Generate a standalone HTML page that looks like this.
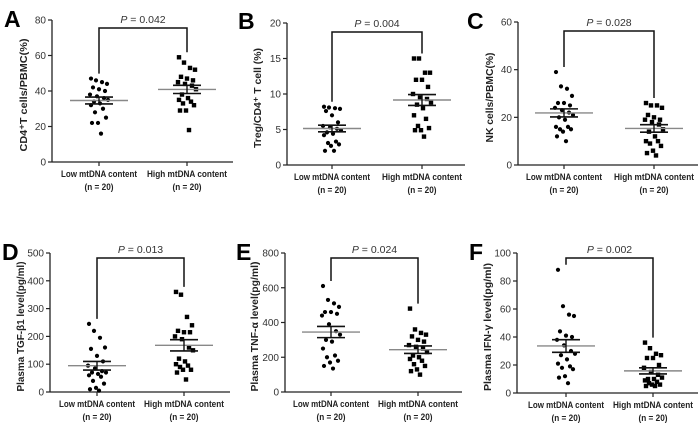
<!DOCTYPE html>
<html><head><meta charset="utf-8"><style>
body{margin:0;background:#fff;}
svg{display:block;font-family:"Liberation Sans",Arial,sans-serif;}
</style></head><body>
<svg id="fig" width="700" height="427" viewBox="0 0 700 427"></svg>
<script>
const groupLabels = ["Low mtDNA content", "High mtDNA content"];
const nLabel = "(n = 20)";
const aLow = [47,46,45,44,42,41,40,38,37,36,35,34,33,32,30,28,25,22,22,16];
const aHigh = [59,56,53,52,48,47,46,45,44,43,41,38,36,35,34,33,32,29,29,18];
const bLow = [8.2,8.1,8.0,7.9,7.6,7.0,6.0,5.5,5.3,5.1,4.9,4.6,4.4,4.2,3.3,3.1,2.9,2.7,2.0,2.0];
const bHigh = [15,15,13,13,12,12,11,10,9.5,9.3,8.8,8.5,8,7,6.5,5.5,5.2,4.9,4.9,4];
const cLow = [39,33,32,29,26,26,25,24,23,22,21,20,19,16,16,15,15,14,12,10];
const cHigh = [26,25,25,24,21,20,19,19,18,17,15,14,12,10,10,9,8,6,5,4];
const dLow = [245,220,195,160,155,130,110,95,85,75,70,70,65,60,55,40,30,15,10,5];
const dHigh = [360,350,270,240,220,215,215,200,190,160,150,120,110,100,95,90,80,80,70,45];
const eLow = [610,530,510,490,460,460,450,440,390,350,330,300,290,250,210,200,180,170,150,135];
const eHigh = [480,360,340,330,320,300,290,270,260,250,230,210,200,190,180,160,150,130,120,100];
const fLow = [88,62,56,55,44,41,40,38,34,30,28,27,24,21,19,18,17,12,11,7];
const fHigh = [36,32,28,27,25,25,20,18,15,13,11,10,10,9,8,7,6,6,5,5];
const aTicks = [0,20,40,60,80];
const bTicks = [0,5,10,15,20];
const cTicks = [0,20,40,60];
const dTicks = [0,100,200,300,400,500];
const eTicks = [0,200,400,600,800];
const fTicks = [0,20,40,60,80,100];
const pValues = ["0.042","0.004","0.028","0.013","0.024","0.002"];
const yTitles = ["CD4\u207AT cells/PBMC(%)","Treg/CD4\u207A T cell (%)","NK cells/PBMC(%)","Plasma TGF-\u03B21 level(pg/ml)","Plasma TNF-\u03B1 level(pg/ml)","Plasma IFN-\u03B3 level(pg/ml)"];
const letters = ["A","B","C","D","E","F"];

const NS="http://www.w3.org/2000/svg";
const svg=document.getElementById('fig');
function mk(tag,attrs,parent){const e=document.createElementNS(NS,tag);for(const k in attrs)e.setAttribute(k,attrs[k]);(parent||svg).appendChild(e);return e;}

const panels=[
 {low:aLow,high:aHigh,ticks:aTicks,ax:52,top:20,bot:162,xEnd:233,lx:99,hx:187,bry:28,titleX:27,letX:4,letY:27,tl:113},
 {low:bLow,high:bHigh,ticks:bTicks,ax:287,top:23,bot:165,xEnd:465,lx:332,hx:422,bry:32,titleX:261,letX:238,letY:29,tl:100},
 {low:cLow,high:cHigh,ticks:cTicks,ax:518,top:22,bot:165,xEnd:698,lx:564,hx:654,bry:31,titleX:493,letX:467,letY:29,tl:90},
 {low:dLow,high:dHigh,ticks:dTicks,ax:50,top:253,bot:392,xEnd:230,lx:97,hx:184,bry:258,titleX:24,letX:2,letY:260,tl:130},
 {low:eLow,high:eHigh,ticks:eTicks,ax:285,top:253,bot:392,xEnd:462,lx:331,hx:418,bry:258,titleX:258,letX:236,letY:260,tl:130},
 {low:fLow,high:fHigh,ticks:fTicks,ax:517,top:253,bot:393,xEnd:698,lx:566,hx:653,bry:258,titleX:491,letX:469,letY:260,tl:128}
];

function stats(a){const n=a.length;const m=a.reduce((s,v)=>s+v,0)/n;const sd=Math.sqrt(a.reduce((s,v)=>s+(v-m)*(v-m),0)/(n-1));return {m,se:sd/Math.sqrt(n)};}
const jit=[-8,-3,3,8,-6,0,6,-9,-2,5,9,-5,1,-8,4,-4,7,-1,-7,2];

panels.forEach((p,i)=>{
 const g=mk('g',{});
 
 
 const max=p.ticks[p.ticks.length-1];
 const y=v=>p.bot-(v/max)*(p.bot-p.top);
 const L=mk('text',{x:p.letX,y:p.letY,'font-size':23,'font-weight':'bold',fill:'#000'},g);L.textContent=letters[i];
 
 
 const ya=mk('line',{x1:p.ax,y1:p.top,x2:p.ax,y2:p.bot,stroke:'#222','stroke-width':1.3},g);
 
 
 const xa=mk('line',{x1:p.ax,y1:p.bot,x2:p.xEnd,y2:p.bot,stroke:'#222','stroke-width':1.3},g);
 
 
 p.ticks.forEach(t=>{
  mk('line',{x1:p.ax-4,y1:y(t),x2:p.ax,y2:y(t),stroke:'#222','stroke-width':1.2},g);
  const tl=mk('text',{x:p.ax-6,y:y(t)+3.5,'font-size':10,'text-anchor':'end',fill:'#333'},g);tl.textContent=t;
  
  
 });
 [p.lx,p.hx].forEach((cx,k)=>{
  mk('line',{x1:cx,y1:p.bot,x2:cx,y2:p.bot+4,stroke:'#222','stroke-width':1.2},g);
  const c1=mk('text',{x:cx,y:p.bot+15,'font-size':9.5,'font-weight':'bold','text-anchor':'middle',fill:'#222',textLength:k===0?76:80,lengthAdjust:'spacingAndGlyphs'},g);c1.textContent=groupLabels[k];
  
  
  const c2=mk('text',{x:cx,y:p.bot+28,'font-size':9.5,'font-weight':'bold','text-anchor':'middle',fill:'#222',textLength:29,lengthAdjust:'spacingAndGlyphs'},g);c2.textContent=nLabel;
  
  
 });
 const mid=(p.top+p.bot)/2+4;
 const yt=mk('text',{x:p.titleX,y:mid,'font-size':10.5,'font-weight':'bold','text-anchor':'middle',fill:'#222',textLength:p.tl,lengthAdjust:'spacingAndGlyphs',transform:`rotate(-90 ${p.titleX} ${mid})`},g);
 yt.textContent=yTitles[i];
 
 
 [[p.low,p.lx,'c'],[p.high,p.hx,'s']].forEach(([arr,cx,shape],k)=>{
  arr.forEach((v,j)=>{
   let e;
   if(shape==='c') e=mk('circle',{cx:cx+jit[j],cy:y(v),r:2.1,fill:'#000'},g);
   else e=mk('rect',{x:cx+jit[j]-2.2,y:y(v)-2.2,width:4.4,height:4.4,fill:'#000'},g);
   
   
  });
  const s=stats(arr);
  const ml=mk('line',{x1:cx-29,y1:y(s.m),x2:cx+29,y2:y(s.m),stroke:'#888','stroke-width':1.4},g);
  
  
  [s.m+s.se,s.m-s.se].forEach(v=>{
   const sl=mk('line',{x1:cx-14,y1:y(v),x2:cx+14,y2:y(v),stroke:'#111','stroke-width':1.6},g);
   
   
  });
  const el=mk('line',{x1:cx,y1:y(s.m+s.se),x2:cx,y2:y(s.m-s.se),stroke:'#111','stroke-width':1.4},g);
  
  
 });
 const lb=Math.max(...p.low), hb=Math.max(...p.high);
 const br=mk('path',{d:`M${p.lx},${y(lb)-5} V${p.bry} H${p.hx} V${y(hb)-5}`,fill:'none',stroke:'#111','stroke-width':1.5},g);
 
 
 const pt=mk('text',{x:(p.lx+p.hx)/2,y:p.bry-5,'font-size':10.5,'text-anchor':'middle',fill:'#333'},g);
 pt.innerHTML='<tspan font-style="italic">P</tspan> = '+pValues[i];
 
 
});
</script>
</body></html>
